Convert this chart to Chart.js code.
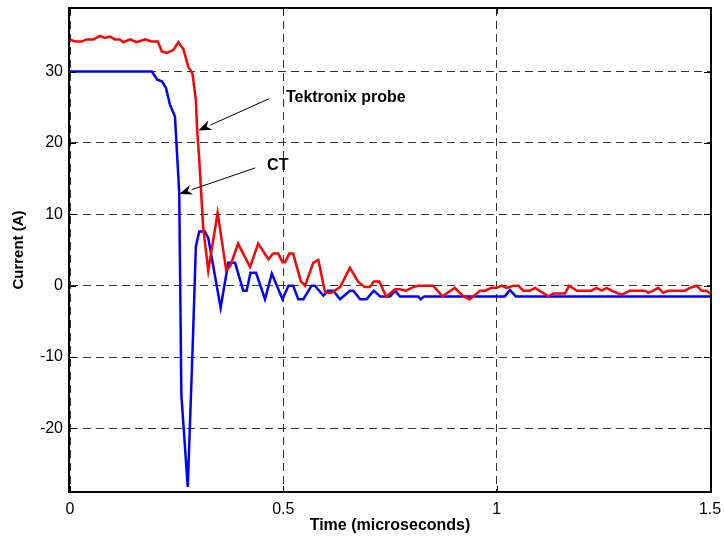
<!DOCTYPE html>
<html>
<head>
<meta charset="utf-8">
<script src="https://cdn.jsdelivr.net/npm/chart.js@4"></script>
<style>
  html, body { margin: 0; padding: 0; background: #fff; }
  #wrap { width: 725px; height: 539px; }
</style>
</head>
<body>
<div id="wrap"><canvas id="currentChart" width="725" height="539"></canvas></div>
<script>
// CT waveform (microseconds, amps)
const ctTime = [0, 0.192, 0.204, 0.216, 0.225, 0.234, 0.246, 0.256, 0.261, 0.276, 0.288, 0.295, 0.303, 0.316,
    0.324, 0.353, 0.371, 0.387, 0.406, 0.414, 0.423, 0.436, 0.457, 0.473, 0.498, 0.512, 0.523, 0.535, 0.547,
    0.566, 0.574, 0.594, 0.605, 0.617, 0.633, 0.656, 0.664, 0.680, 0.695, 0.712, 0.727, 0.750, 0.762, 0.773,
    0.816, 0.822, 0.830, 1.019, 1.031, 1.045, 1.5];
const ctCurrent = [30, 30, 28.9, 28.6, 27.7, 25.4, 23.7, 13.0, -15.3, -28.2, -7.6, 5.5, 7.6, 7.6,
    6.7, -3.1, 3.2, 3.2, -0.7, -0.7, 1.8, 1.8, -1.9, 1.7, -1.9, 0, 0, -1.9, -1.9,
    0, 0, -1.4, -0.7, -0.7, -1.9, -0.7, -0.7, -1.9, -1.9, -0.7, -1.5, -1.5, -0.7, -1.5,
    -1.5, -1.9, -1.5, -1.5, -0.6, -1.5, -1.5];

// Tektronix probe waveform
const probeTime = [0, 0.012, 0.027, 0.039, 0.055, 0.070, 0.082, 0.094, 0.105, 0.117, 0.125, 0.141, 0.156,
    0.176, 0.191, 0.206, 0.215, 0.227, 0.242, 0.254, 0.266, 0.277, 0.287, 0.295, 0.298, 0.303, 0.312, 0.324,
    0.346, 0.366, 0.375, 0.394, 0.422, 0.441, 0.465, 0.476, 0.488, 0.498, 0.504, 0.514, 0.523, 0.541, 0.551,
    0.570, 0.582, 0.598, 0.613, 0.633, 0.656, 0.676, 0.691, 0.703, 0.712, 0.725, 0.741, 0.762, 0.773, 0.787,
    0.805, 0.816, 0.851, 0.873, 0.902, 0.922, 0.937, 0.961, 0.973, 0.988, 1.000, 1.012, 1.023, 1.039, 1.051,
    1.062, 1.078, 1.090, 1.121, 1.133, 1.160, 1.170, 1.188, 1.222, 1.234, 1.246, 1.258, 1.269, 1.293, 1.312,
    1.348, 1.355, 1.367, 1.379, 1.390, 1.402, 1.441, 1.453, 1.469, 1.480, 1.492, 1.5];
const probeCurrent = [34.5, 34.2, 34.2, 34.5, 34.5, 35.0, 34.7, 34.9, 34.5, 34.5, 34.1, 34.5, 34.1,
    34.5, 34.2, 34.2, 32.8, 32.6, 33.0, 34.1, 33.1, 30.7, 29.7, 26.0, 21.8, 17.6, 8.3, 2.1,
    10.2, 2.2, 2.7, 5.9, 2.6, 5.9, 3.7, 4.5, 4.5, 3.3, 3.3, 4.5, 4.5, 0.6, 0,
    3.2, 3.6, -1.0, -1.0, -0.2, 2.5, 0.5, -0.2, -0.2, 0.6, 0.6, -1.5, -0.5, -0.5, -0.7,
    -0.2, 0, 0, -1.5, -0.3, -1.5, -1.9, -0.7, -0.7, -0.3, -0.3, 0, -0.3, 0, 0,
    -0.7, -0.7, -0.3, -1.5, -1.1, -1.1, 0, -0.7, -0.7, -0.3, -0.7, -0.3, -0.7, -1.3, -0.7,
    -0.7, -1.0, -0.7, -0.3, -1.0, -0.7, -0.7, -0.3, 0, -0.7, -0.7, -1.1];

const xTicks = [0, 0.5, 1, 1.5];
const yTicks = [-20, -10, 0, 10, 20, 30];

// text callouts: [label, textX, textY, arrowTailX, arrowTailY, arrowTipX, arrowTipY] in data units
const callouts = [
    ['Tektronix probe', 0.506, 26.3, 0.467, 26.2, 0.301, 21.75],
    ['CT', 0.462, 16.85, 0.434, 16.5, 0.256, 12.85]
];

const FONT = '"Liberation Sans", Arial, Helvetica, sans-serif';

const toPoints = (xs, ys) => xs.map((x, i) => ({ x, y: ys[i] }));

const boxAndCallouts = {
    id: 'boxAndCallouts',
    afterDraw(chart) {
        const { ctx, chartArea: a, scales: { x, y } } = chart;
        ctx.save();
        // tick marks on all four sides
        ctx.strokeStyle = '#000';
        ctx.lineWidth = 1;
        ctx.beginPath();
        yTicks.forEach(v => {
            const py = Math.round(y.getPixelForValue(v)) + 0.5;
            ctx.moveTo(a.left, py); ctx.lineTo(a.left + 6, py);
            ctx.moveTo(a.right, py); ctx.lineTo(a.right - 6, py);
        });
        xTicks.forEach(v => {
            const px = Math.round(x.getPixelForValue(v)) + 0.5;
            ctx.moveTo(px, a.bottom); ctx.lineTo(px, a.bottom - 6);
            ctx.moveTo(px, a.top); ctx.lineTo(px, a.top + 6);
        });
        ctx.stroke();
        // axes box
        ctx.lineWidth = 2;
        ctx.strokeRect(a.left - 1, a.top, a.right - a.left + 2, a.bottom - a.top);

        // callouts
        ctx.font = 'bold 16px ' + FONT;
        ctx.fillStyle = '#000';
        ctx.textBaseline = 'middle';
        ctx.textAlign = 'left';
        callouts.forEach(([label, tx, ty, x0, y0, x1, y1]) => {
            ctx.fillText(label, x.getPixelForValue(tx), y.getPixelForValue(ty));
            const sx = x.getPixelForValue(x0), sy = y.getPixelForValue(y0);
            const ex = x.getPixelForValue(x1), ey = y.getPixelForValue(y1);
            const ang = Math.atan2(ey - sy, ex - sx);
            const len = 13, half = 5;
            const bx = ex - len * Math.cos(ang), by = ey - len * Math.sin(ang);
            ctx.lineWidth = 1;
            ctx.beginPath();
            ctx.moveTo(sx, sy);
            ctx.lineTo(bx, by);
            ctx.stroke();
            ctx.beginPath();
            ctx.moveTo(ex, ey);
            ctx.lineTo(bx - half * Math.sin(ang), by + half * Math.cos(ang));
            ctx.lineTo(ex - (len - 4) * Math.cos(ang), ey - (len - 4) * Math.sin(ang));
            ctx.lineTo(bx + half * Math.sin(ang), by - half * Math.cos(ang));
            ctx.closePath();
            ctx.fill();
        });
        ctx.restore();
    }
};

new Chart(document.getElementById('currentChart').getContext('2d'), {
    type: 'line',
    data: {
        datasets: [{
            label: 'CT',
            data: toPoints(ctTime, ctCurrent),
            borderColor: '#0000ff',
            borderWidth: 2.5,
            pointRadius: 0,
            tension: 0,
            order: 2
        }, {
            label: 'Tektronix probe',
            data: toPoints(probeTime, probeCurrent),
            borderColor: '#ff0000',
            borderWidth: 2.5,
            pointRadius: 0,
            tension: 0,
            order: 1
        }]
    },
    options: {
        responsive: false,
        animation: false,
        devicePixelRatio: 1,
        layout: { padding: { top: 8, right: 15, left: 0, bottom: 0 } },
        plugins: {
            legend: { display: false },
            tooltip: { enabled: false }
        },
        scales: {
            x: {
                type: 'linear',
                min: 0,
                max: 1.5,
                afterFit: s => { s.height = 47; s.paddingLeft = 0; s.paddingRight = 0; },
                afterBuildTicks: s => { s.ticks = xTicks.map(v => ({ value: v })); },
                ticks: {
                    color: '#000',
                    padding: 8,
                    font: { family: FONT, size: 16 },
                    callback: v => String(v)
                },
                grid: {
                    color: '#333',
                    lineWidth: 1,
                    drawTicks: false
                },
                border: { display: false, dash: [8, 5] },
                title: {
                    display: true,
                    text: 'Time (microseconds)',
                    color: '#000',
                    font: { family: FONT, size: 16, weight: 'bold' },
                    padding: { top: 0, bottom: 4 }
                }
            },
            y: {
                type: 'linear',
                min: -28.9,
                max: 38.9,
                afterFit: s => { s.width = 70; s.paddingTop = 0; s.paddingBottom = 0; },
                afterBuildTicks: s => { s.ticks = yTicks.map(v => ({ value: v })); },
                ticks: {
                    color: '#000',
                    padding: 7,
                    font: { family: FONT, size: 16 },
                    callback: v => String(v)
                },
                grid: {
                    color: '#333',
                    lineWidth: 1,
                    drawTicks: false
                },
                border: { display: false, dash: [8, 5] },
                title: {
                    display: true,
                    text: 'Current (A)',
                    color: '#000',
                    font: { family: FONT, size: 15, weight: 'bold' },
                    padding: { top: 10, bottom: 0 }
                }
            }
        }
    },
    plugins: [boxAndCallouts]
});
</script>
</body>
</html>
